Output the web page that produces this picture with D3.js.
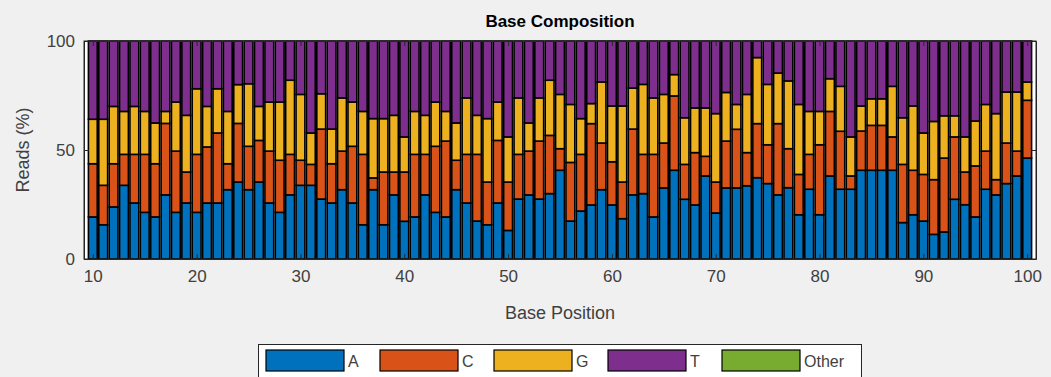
<!DOCTYPE html>
<html>
<head>
<meta charset="utf-8">
<script src="https://cdn.jsdelivr.net/npm/d3@7"></script>
<style>
  body { margin: 0; background: #f0f0f0; }
  text { font-family: "Liberation Sans", Arial, sans-serif; }
</style>
</head>
<body>
<script>
// base positions along the read
var positions = [10,11,12,13,14,15,16,17,18,19,20,21,22,23,24,25,26,27,28,29,30,
  31,32,33,34,35,36,37,38,39,40,41,42,43,44,45,46,47,48,49,50,51,52,53,54,55,56,57,58,59,60,
  61,62,63,64,65,66,67,68,69,70,71,72,73,74,75,76,77,78,79,80,81,82,83,84,85,86,87,88,89,90,
  91,92,93,94,95,96,97,98,99,100];

// percent of reads per base (A, C, G, T, Other)
var baseA = [19.3,15.7,23.9,33.8,25.7,21.4,19.3,29.4,21.4,25.7,21.4,25.7,25.7,31.8,35.3,31.8,35.3,25.7,21.4,29.4,33.8,
  33.8,27.5,25.7,31.8,25.7,15.7,31.8,15.7,29.4,17.3,19.3,29.4,21.4,19.3,31.8,25.7,17.4,15.7,25.7,13.1,
  27.5,29.4,27.5,30.0,40.7,17.4,22.0,24.8,31.8,24.8,18.5,29.4,30.0,19.3,32.6,40.7,27.4,24.8,38.1,21.1,
  32.6,32.6,33.6,37.3,34.6,29.4,32.7,20.3,32.0,20.3,38.1,32.0,32.0,40.7,40.7,40.7,40.7,16.7,20.3,17.4,
  11.3,12.4,27.4,24.9,19.3,32.0,29.4,34.6,38.1,46.3];
var baseC = [24.4,18.1,19.8,14.2,22.3,26.6,24.4,32.8,28.1,14.2,26.6,25.7,32.1,11.9,26.9,19.9,19.1,23.8,23.9,18.6,11.5,
  9.6,32.1,18.0,17.7,26.0,32.3,5.4,24.2,10.5,22.6,28.7,18.6,30.3,34.8,13.5,22.3,30.6,19.6,28.7,22.2,
  20.5,20.1,26.6,26.7,9.9,26.9,26.0,37.3,21.4,19.8,16.8,30.2,18.0,28.7,20.6,34.1,16.0,24.0,9.0,14.2,
  21.5,26.9,15.2,24.8,17.8,32.7,17.9,18.5,16.0,32.1,29.6,26.6,6.1,18.0,20.6,20.6,15.3,26.7,20.4,21.4,
  25.1,33.9,28.6,15.0,23.4,17.5,7.0,18.6,11.4,26.5];
var baseG = [20.4,30.3,26.3,19.7,22.0,19.7,18.7,5.5,22.5,26.0,30.1,18.6,20.3,24.0,17.8,28.7,15.6,22.5,26.7,34.0,30.2,
  14.4,16.2,15.9,24.4,20.3,19.7,27.2,24.5,26.0,16.1,19.7,17.9,20.3,13.6,17.1,25.9,17.9,29.1,17.6,20.7,
  25.9,12.9,19.8,25.3,24.9,26.6,16.4,9.2,28.0,25.6,34.9,18.8,32.1,25.9,22.3,9.8,21.4,20.5,22.2,31.4,
  22.3,11.4,26.7,30.3,27.7,23.2,31.1,32.1,19.7,15.3,15.0,20.6,17.9,11.5,12.2,12.2,23.2,21.4,29.5,19.0,
  26.7,19.4,9.7,16.1,20.6,21.4,30.3,23.4,27.1,8.4];
var baseT = [35.9,35.9,30.0,32.3,30.0,32.3,37.6,32.3,28.0,34.1,21.9,30.0,21.9,32.3,20.0,19.6,30.0,28.0,28.0,18.0,24.5,
  42.2,24.2,40.4,26.1,28.0,32.3,35.6,35.6,34.1,44.0,32.3,34.1,28.0,32.3,37.6,26.1,34.1,35.6,28.0,44.0,
  26.1,37.6,26.1,18.0,24.5,29.1,35.6,28.7,18.8,29.8,29.8,21.6,19.9,26.1,24.5,15.4,35.2,30.7,30.7,33.3,
  23.6,29.1,24.5,7.6,19.9,14.7,18.3,29.1,32.3,32.3,17.3,20.8,44.0,29.8,26.5,26.5,20.8,35.2,29.8,42.2,
  36.9,34.3,34.3,44.0,36.7,29.1,33.3,23.4,23.4,18.8];
var baseOther = [0,0,0,0,0,0,0,0,0,0,0,0,0,0,0,0,0,0,0,0,0,
  0,0,0,0,0,0,0,0,0,0,0,0,0,0,0,0,0,0,0,0,
  0,0,0,0,0,0,0,0,0,0,0,0,0,0,0,0,0,0,0,0,
  0,0,0,0,0,0,0,0,0,0,0,0,0,0,0,0,0,0,0,0,
  0,0,0,0,0,0,0,0,0,0];

var keys = ["A", "C", "G", "T", "Other"];
var colors = ["#0072BD", "#D95319", "#EDB120", "#7E2F8E", "#77AC30"];
var xTicks = [10, 20, 30, 40, 50, 60, 70, 80, 90, 100];
var yTicks = [0, 50, 100];

var width = 1051, height = 377;
var plotL = 84, plotR = 1036, plotT = 41, plotB = 259;

var svg = d3.select("body").append("svg")
    .attr("width", width)
    .attr("height", height);

// table for d3.stack
var table = positions.map(function(p, i) {
    return {pos: p, A: baseA[i], C: baseC[i], G: baseG[i], T: baseT[i], Other: baseOther[i]};
});
var series = d3.stack().keys(keys)(table);

var x = d3.scaleLinear().domain([9.15, 100.85]).range([plotL, plotR]);
var y = d3.scaleLinear().domain([0, 100]).range([plotB, plotT]);
var color = d3.scaleOrdinal().domain(keys).range(colors);

var step = x(11) - x(10);
var barW = step * 0.85;

// axes background
svg.append("rect")
    .attr("x", plotL).attr("y", plotT)
    .attr("width", plotR - plotL).attr("height", plotB - plotT)
    .attr("fill", "#ffffff");

// stacked bars
var layers = svg.append("g").selectAll("g")
    .data(series)
    .enter().append("g")
    .attr("fill", function(d) { return color(d.key); });

layers.selectAll("rect")
    .data(function(d) { return d; })
    .enter().append("rect")
    .attr("x", function(d) { return x(d.data.pos) - barW / 2; })
    .attr("y", function(d) { return y(d[1]); })
    .attr("width", barW)
    .attr("height", function(d) { return y(d[0]) - y(d[1]); })
    .attr("stroke", "#000")
    .attr("stroke-width", 1.6);

// axes (ticks point inward, like matlab)
var xAxis = svg.append("g")
    .attr("transform", "translate(0," + plotB + ")")
    .call(d3.axisBottom(x).tickValues(xTicks).tickSizeInner(-5).tickSizeOuter(0).tickPadding(11));
var xTop = svg.append("g")
    .attr("transform", "translate(0," + plotT + ")")
    .call(d3.axisTop(x).tickValues(xTicks).tickSizeInner(-5).tickSizeOuter(0).tickFormat(""));
var yAxis = svg.append("g")
    .attr("transform", "translate(" + plotL + ",0)")
    .call(d3.axisLeft(y).tickValues(yTicks).tickSizeInner(-5).tickSizeOuter(0).tickPadding(9));
var yRight = svg.append("g")
    .attr("transform", "translate(" + plotR + ",0)")
    .call(d3.axisRight(y).tickValues(yTicks).tickSizeInner(-5).tickSizeOuter(0).tickFormat(""));

[xAxis, xTop, yAxis, yRight].forEach(function(a) {
    a.select(".domain").attr("stroke", "#262626").attr("stroke-width", 1);
    a.selectAll(".tick line").attr("stroke", "#262626");
    a.selectAll("text")
        .style("font-family", "'Liberation Sans', Arial, sans-serif")
        .style("font-size", "17px")
        .attr("fill", "#404040");
});
svg.append("rect")
    .attr("x", plotL).attr("y", plotT)
    .attr("width", plotR - plotL).attr("height", plotB - plotT)
    .attr("fill", "none")
    .attr("stroke", "#262626");

// title and labels
svg.append("text")
    .attr("x", (plotL + plotR) / 2).attr("y", 27)
    .attr("text-anchor", "middle")
    .style("font-size", "17px").style("font-weight", "bold")
    .attr("fill", "#000")
    .text("Base Composition");

svg.append("text")
    .attr("x", (plotL + plotR) / 2).attr("y", 319)
    .attr("text-anchor", "middle")
    .style("font-size", "18px")
    .attr("fill", "#404040")
    .text("Base Position");

svg.append("text")
    .attr("transform", "translate(29," + (plotT + plotB) / 2 + ") rotate(-90)")
    .attr("text-anchor", "middle")
    .style("font-size", "18px")
    .attr("fill", "#404040")
    .text("Reads (%)");

// legend
var legend = svg.append("g");
legend.append("rect")
    .attr("x", 258.5).attr("y", 344.5)
    .attr("width", 603).attr("height", 40)
    .attr("fill", "#ffffff")
    .attr("stroke", "#262626");

var item = legend.selectAll(".legend")
    .data(keys)
    .enter().append("g")
    .attr("class", "legend")
    .attr("transform", function(d, i) { return "translate(" + (266 + i * 114) + ",350)"; });

item.append("rect")
    .attr("width", 78).attr("height", 21)
    .attr("fill", function(d) { return color(d); })
    .attr("stroke", "#000").attr("stroke-width", 1.2);

item.append("text")
    .attr("x", 82).attr("y", 17)
    .style("font-size", "16px")
    .attr("fill", "#404040")
    .text(function(d) { return d; });
</script>
</body>
</html>
